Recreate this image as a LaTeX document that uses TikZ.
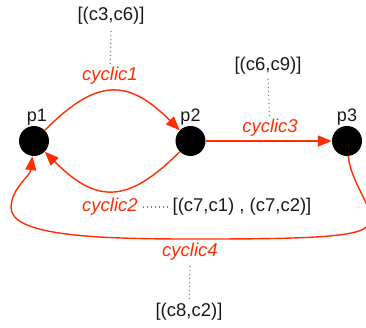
\documentclass[tikz,border=0pt]{standalone}
\usepackage{fontspec}
\setmainfont{Liberation Sans}
\usetikzlibrary{arrows.meta,positioning}
\definecolor{cycred}{RGB}{255,45,0}
\tikzset{%
  >={Triangle[width=11pt,length=14pt]},
  % Specifications for style of nodes:
          place/.style = {circle, fill=black, minimum size=30pt, inner sep=0pt},
      placename/.style = {font=\fontsize{18}{21}\selectfont, text=black!90, inner sep=1pt},
    cycliclabel/.style = {font=\fontsize{18.5}{22}\selectfont\itshape, text=cycred, inner sep=2pt},
      pairsnote/.style = {font=\fontsize{18.5}{22}\selectfont, text=black!90, inner sep=2pt},
  % Specifications for style of lines:
     cyclicline/.style = {->, draw=cycred, line width=1.4pt},
       notelink/.style = {draw=black!50, dash pattern=on 1.3pt off 2.7pt, line width=1.1pt},
}

\begin{document}
\begin{tikzpicture}[x=1pt, y=1pt, node distance=156.5pt]
  \useasboundingbox (0,0) rectangle (366,327);
  % Specification of places
  \node (p1) [place] at (34,186) {};
  \node (p2) [place, right of=p1] {};
  \node (p3) [place, right of=p2] {};
  \node (p1name) [placename, above=-1pt of p1, xshift=3pt] {p1};
  \node (p2name) [placename, above=-1pt of p2] {p2};
  \node (p3name) [placename, above=-1pt of p3] {p3};
  % Labels of the cycles and their pairs
  \node (lc1) [cycliclabel] at (110,251) {cyclic1};
  \node (lc2) [cycliclabel] at (110,120) {cyclic2};
  \node (lc3) [cycliclabel] at (270,199) {cyclic3};
  \node (lc4) [cycliclabel] at (190,75)  {cyclic4};
  \node (n1) [pairsnote] at (111,311) {[(c3,c6)]};
  \node (n2) [pairsnote] at (242,120) {[(c7,c1) , (c7,c2)]};
  \node (n3) [pairsnote] at (268,261) {[(c6,c9)]};
  \node (n4) [pairsnote] at (189,15)  {[(c8,c2)]};
  % Cycles between places
  \draw[cyclicline] (p1) to[out=45, in=135, looseness=1.4] (p2);
  \draw[cyclicline] (p2) to[out=-135, in=-45, looseness=1.4] (p1);
  \draw[cyclicline] (p2) -- (p3);
  \draw[cyclicline] (p3) .. controls (351,140) and (382,112) .. (365,99)
                         .. controls (352,88) and (270,88) .. (190,88)
                         .. controls (90,88) and (10,92) .. (11,120)
                         .. controls (12,140) and (30,150) .. (p1);
  % Dotted links to the pairs
  \draw[notelink] ([yshift=-4pt]n1.south) -- (lc1);
  \draw[notelink] ([yshift=-2pt]n3.south) -- (lc3);
  \draw[notelink] ([xshift=3pt]lc2.east) -- (n2);
  \draw[notelink] ([yshift=-3pt]lc4.south) -- (n4);
\end{tikzpicture}
\end{document}
